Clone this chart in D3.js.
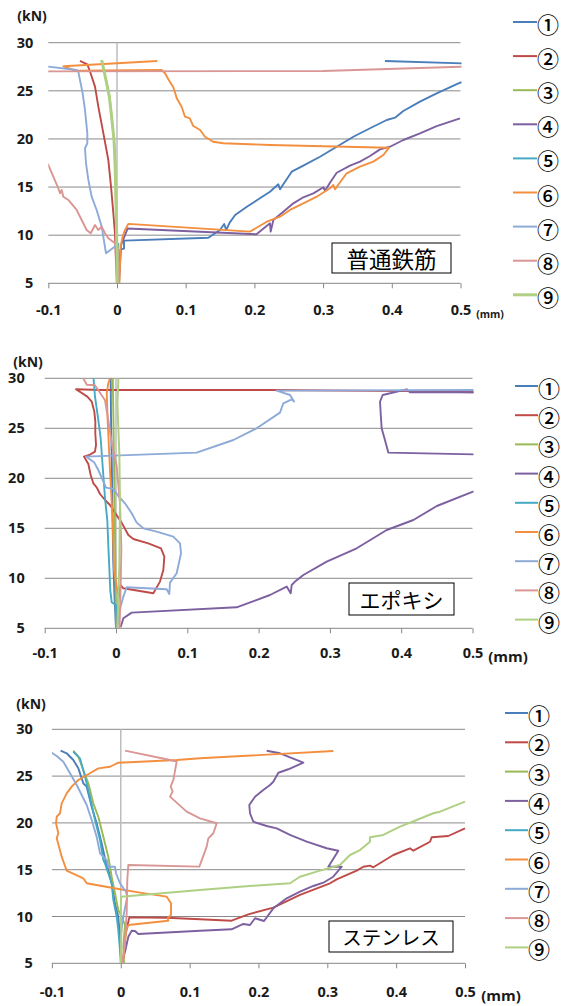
<!DOCTYPE html>
<html lang="ja">
<head>
<meta charset="UTF-8">
<title>荷重-すべり</title>
<script src="https://d3js.org/d3.v7.min.js"></script>
<style>
  body { margin: 0; background: #fff; }
  svg { display: block; }
  .tick text, .unit { font-family: "Open Sans", sans-serif; font-weight: 700; fill: #1a1a1a; }
  .legend text, .box text { font-family: "Noto Sans CJK JP", sans-serif; fill: #000; }
</style>
</head>
<body>
<svg width="565" height="1006"></svg>
<script>
// data: [slip (mm), load (kN)] per series, series order ①..⑨
const legendLabels = ['①', '②', '③', '④', '⑤', '⑥', '⑦', '⑧', '⑨'];
const seriesColors = ['#4a7ebb', '#be4b48', '#98b954', '#7d60a0', '#46aac5', '#f38f3e', '#8daad9', '#d99694', '#afd083'];
const xTicks = [-0.1, 0, 0.1, 0.2, 0.3, 0.4, 0.5];
const yTicks = [5, 10, 15, 20, 25, 30];
const panelNames = ['普通鉄筋', 'エポキシ', 'ステンレス'];

const plainBar = [
  [[0.002,5],[0.005,8.5],[0.0102,8.6],[0.0102,9.43],[0.133,9.74],[0.15,10.54],[0.156,11.16],[0.159,10.54],[0.164,11.3],[0.172,12.1],[0.189,12.96],[0.208,13.83],[0.2227,14.52],[0.2348,15.29],[0.2373,14.77],[0.2421,15.29],[0.2543,16.6],[0.2712,17.22],[0.2955,18.15],[0.3198,19.19],[0.344,20.23],[0.3683,21.11],[0.3926,21.97],[0.4047,22.21],[0.4167,22.9],[0.441,23.87],[0.4653,24.74],[0.4993,25.84],[0.6,27.64],[0.39,28.1]],
  [[0,5],[-0.002,8.12],[-0.003,10.2],[-0.0053,12.27],[-0.0087,15.04],[-0.0126,17.8],[-0.0199,20.6],[-0.0272,23.36],[-0.032,25.44],[-0.0393,27.0],[-0.0432,27.76],[-0.0539,28.1]],
  [[0,5],[-0.001,10],[-0.002,15],[-0.004,19.5],[-0.008,22.5],[-0.011,24.5],[-0.016,26.2]],
  [[0.003,5],[0.006,9],[0.0155,10.7],[0.203,10.09],[0.2227,11.23],[0.2237,10.37],[0.2276,11.58],[0.2421,12.44],[0.2567,13.31],[0.2712,13.94],[0.2858,14.35],[0.3004,14.98],[0.3028,14.62],[0.31,15.45],[0.3198,16.49],[0.3392,17.22],[0.3537,17.64],[0.3683,18.23],[0.3829,18.92],[0.3974,19.19],[0.4168,19.89],[0.441,20.59],[0.4653,21.34],[0.4993,22.14]],
  [[0,5],[0.001,7.5],[0.002,9.2]],
  [[0.0034,5],[0.0044,7.08],[0.0053,8.81],[0.0082,9.85],[0.0116,10.54],[0.0165,11.17],[0.1936,10.37],[0.218,11.4],[0.2373,11.92],[0.2518,12.62],[0.2712,13.31],[0.2907,14.0],[0.31,14.87],[0.3149,15.21],[0.3173,14.77],[0.3343,16.43],[0.3537,17.12],[0.3731,17.64],[0.3877,18.33],[0.396,19.09],[0.2227,19.37],[0.1548,19.55],[0.14,19.71],[0.128,20.23],[0.121,20.93],[0.111,21.34],[0.106,22.14],[0.099,22.31],[0.094,23.35],[0.087,24.22],[0.082,25.37],[0.0747,26.2],[0.0699,26.82],[0.065,27.16],[-0.06,27.1],[-0.078,27.55],[0.0587,28.1]],
  [[0.002,5],[0.001,8],[0,8.98],[-0.016,8.12],[-0.0223,10.89],[-0.0296,12.62],[-0.0369,14.0],[-0.0417,15.74],[-0.0451,17.47],[-0.0466,19.03],[-0.0432,19.55],[-0.0432,20.59],[-0.0466,23.01],[-0.05,24.74],[-0.0539,26.13],[-0.0563,27.0],[-0.0587,27.17],[-0.1,27.51],[-0.13,27.6]],
  [[0.002,5],[0.001,8.64],[-0.003,9.16],[-0.0126,9.68],[-0.0175,10.2],[-0.0223,10.89],[-0.0272,10.54],[-0.032,11.06],[-0.0383,10.2],[-0.0442,10.54],[-0.0514,11.58],[-0.0587,12.62],[-0.0708,13.66],[-0.0781,14.0],[-0.0805,14.7],[-0.083,14.35],[-0.0854,14.87],[-0.0927,16.08],[-0.1,17.3],[-0.12,19.5],[-0.12,27.02],[0.3,27.06],[0.5,27.5],[0.6,27.7]],
  [[0,5],[0,8.1],[-0.001,11.9],[-0.0019,15.0],[-0.0029,17.8],[-0.0044,19.9],[-0.0078,22.3],[-0.0112,24.4],[-0.016,26.1],[-0.0223,28.2]]
];

const epoxyBar = [
  [[0,5],[-0.002,8],[-0.004,12],[-0.005,17],[-0.006,22],[-0.007,26],[-0.0075,30]],
  [[0,5],[0.0019,7.17],[0.0065,9.33],[0.0103,9.0],[0.0524,8.5],[0.0617,9.67],[0.0664,10.83],[0.0678,12.17],[0.0631,13.0],[0.0453,13.5],[0.0243,13.93],[0.0173,14.33],[0.0079,15.57],[0,16.4],[-0.0084,17.33],[-0.0154,17.83],[-0.0224,18.43],[-0.0271,19.1],[-0.0318,19.5],[-0.0355,20.33],[-0.0388,21.43],[-0.0449,22.17],[-0.0374,22.33],[-0.0295,22.67],[-0.028,23.33],[-0.029,24.5],[-0.029,25.67],[-0.0304,26.67],[-0.0341,27.67],[-0.0402,28.17],[-0.0561,28.9],[-0.0224,28.83],[0.216,28.83],[0.4077,28.72],[0.5,28.6],[0.55,28.55]],
  [[0,5],[-0.001,12.17],[-0.0023,18.83],[-0.0035,25.5],[-0.0045,30]],
  [[0.0065,5.1],[0.0103,6.0],[0.022,6.57],[0.1692,7.1],[0.216,8.33],[0.2394,9.17],[0.245,8.5],[0.2464,9.33],[0.2511,9.67],[0.2628,10.33],[0.2955,11.67],[0.3376,13.0],[0.3797,14.83],[0.4171,15.83],[0.45,17.23],[0.5007,18.67],[0.56,20.5],[0.56,22.3],[0.3819,22.57],[0.3772,23.83],[0.3726,25.0],[0.3712,26.5],[0.3703,27.67],[0.374,28.33],[0.4077,28.9],[0.4124,28.6],[0.5,28.6],[0.56,28.6]],
  [[0,5],[0,7.3],[-0.006,7.6],[-0.008,8.8],[-0.0103,12.5],[-0.0122,15.8],[-0.0154,18],[-0.0185,21],[-0.0215,24],[-0.0255,26.2],[-0.0295,28.2],[-0.0315,30]],
  [[0.002,5],[0.0033,8.16],[-0.0028,10.8],[-0.0047,15.8],[-0.0084,20.8],[-0.0117,25.8],[-0.013,28.5],[-0.0108,29.5],[-0.0084,30]],
  [[0.001,5],[0.0065,7.17],[0.0103,8.17],[0.015,9.1],[0.0711,8.9],[0.0748,8.43],[0.0757,9.57],[0.0851,10.5],[0.0912,12.5],[0.0898,13.5],[0.0804,14.17],[0.057,14.67],[0.0383,15.0],[0.029,15.57],[0.022,16.5],[0.0126,17.5],[0.0033,18.23],[-0.0037,18.93],[-0.014,19.07],[-0.0187,19.83],[-0.0248,20.83],[-0.0304,21.57],[-0.0421,22.17],[-0.0037,22.27],[0.1131,22.57],[0.1646,23.83],[0.1973,25.0],[0.23,26.57],[0.2347,27.5],[0.2464,27.9],[0.2497,27.67],[0.2441,28.33],[0.2254,28.77],[0.5,28.83],[0.56,28.85]],
  [[0.005,5],[0.0066,9.5],[0.0075,13],[0.0056,17.5],[0.001,21.2],[-0.006,23.5],[-0.0108,25.8],[-0.0154,27.8],[-0.0248,28.8],[-0.0295,29.3],[-0.041,29.35],[-0.046,30]],
  [[0.002,5],[0.0047,11.5],[0.0056,17.5],[0.0047,22.5],[0.0019,27.5],[0.0033,29.8],[0.003,30]]
];

const stainlessBar = [
  [[0.0004,5],[-0.0011,7.84],[-0.0036,9.98],[-0.0084,11.41],[-0.0132,13.55],[-0.0181,14.97],[-0.0229,16.2],[-0.0277,17.82],[-0.035,19.96],[-0.0422,21.73],[-0.0495,23.87],[-0.0544,24.23],[-0.0616,25.83],[-0.0689,26.72],[-0.0785,27.44],[-0.0873,27.71]],
  [[0.0037,5.17],[0.0062,7.84],[0.011,9.44],[0.0125,9.91],[0.0667,9.87],[0.1151,9.7],[0.161,9.55],[0.1853,10.23],[0.2216,10.94],[0.2603,12.3],[0.3039,13.55],[0.3136,13.97],[0.3427,14.9],[0.3523,15.32],[0.362,15.43],[0.3669,15.26],[0.3959,16.57],[0.4201,17.29],[0.4249,17.03],[0.4492,17.99],[0.4516,18.46],[0.4757,18.6],[0.5,19.42]],
  [[0.0047,5],[0.0037,6.77],[0.0062,9.09],[0.0013,9.98],[-0.0036,10.69],[-0.0084,12.48],[-0.0132,14.25],[-0.0181,16.39],[-0.0253,18.53],[-0.0326,20.66],[-0.0399,22.09],[-0.0471,24.23],[-0.0544,25.65],[-0.0616,27.07],[-0.0689,27.71]],
  [[0.0013,5],[0.0062,6.24],[0.011,7.84],[0.0159,8.48],[0.0207,8.45],[0.0255,8.13],[0.1151,8.48],[0.161,8.63],[0.178,9.2],[0.1877,9.09],[0.195,9.81],[0.2081,9.52],[0.2216,10.87],[0.241,11.94],[0.2603,12.65],[0.2797,13.26],[0.2942,13.61],[0.3087,14.25],[0.3209,15.32],[0.3015,15.32],[0.316,17.03],[0.2991,17.29],[0.2701,17.99],[0.2458,18.71],[0.2265,19.42],[0.212,19.67],[0.1925,20.13],[0.1877,21.03],[0.1867,21.91],[0.195,22.8],[0.207,23.52],[0.2168,24.05],[0.2216,24.4],[0.2289,25.36],[0.2434,25.73],[0.2579,26.19],[0.2652,26.43],[0.2313,27.44],[0.212,27.71]],
  [[0.0004,5],[-0.0011,6.42],[-0.0036,8.56],[-0.0059,9.98],[-0.0108,11.77],[-0.0132,13.55],[-0.0181,14.62],[-0.0229,15.68],[-0.0253,16.04],[-0.0301,18.17],[-0.0374,20.31],[-0.0447,22.8],[-0.0519,24.94],[-0.0592,26.9],[-0.0689,27.6]],
  [[0.003,5],[0.008,8.5],[0.011,9.09],[0.0691,9.55],[0.0682,9.81],[0.073,10.16],[0.073,11.41],[0.0667,12.12],[0.028,12.55],[-0.0011,12.91],[-0.0495,13.55],[-0.0544,14.08],[-0.0785,14.9],[-0.0858,16.39],[-0.093,18.35],[-0.0907,18.89],[-0.094,19.96],[-0.093,20.66],[-0.0882,21.03],[-0.0858,22.09],[-0.0785,23.16],[-0.0713,23.87],[-0.0616,24.58],[-0.0447,25.3],[-0.0326,25.83],[-0.0156,26.0],[-0.0036,26.43],[0.028,26.54],[0.0812,26.72],[0.1151,26.9],[0.3087,27.68]],
  [[0,5],[0.0004,8.2],[0.0037,9.98],[0.0095,12.12],[0.0076,12.65],[-0.0011,13.55],[-0.0069,14.62],[-0.0084,15.32],[-0.0181,15.32],[-0.0204,16.04],[-0.0301,16.75],[-0.035,18.53],[-0.0422,20.31],[-0.0495,21.91],[-0.0567,22.98],[-0.064,24.05],[-0.0737,25.3],[-0.0834,26.54],[-0.093,27.15],[-0.1003,27.5],[-0.11,27.9]],
  [[0.0028,5],[0.0062,7.49],[0.0086,10.34],[0.0095,13.9],[0.011,15.51],[0.1142,15.33],[0.1248,17.46],[0.1272,18.35],[0.1345,18.89],[0.1393,19.96],[0.1151,20.49],[0.0957,21.2],[0.0715,22.81],[0.0754,23.34],[0.0725,23.87],[0.0764,24.59],[0.0812,26.55],[0.0715,26.72],[0.0062,27.72]],
  [[0,5],[0.001,8.5],[0,10],[0.0004,12.12],[0.1151,12.83],[0.1732,13.19],[0.2458,13.55],[0.2603,14.25],[0.2894,14.9],[0.3184,15.5],[0.333,16.57],[0.3475,17.1],[0.362,17.99],[0.362,18.46],[0.3813,18.71],[0.4056,19.6],[0.4298,20.31],[0.454,21.03],[0.4637,21.2],[0.5,22.27]]
];

// layout of the three panels
const panels = [
  {series: plainBar, left: 48.3, right: 460.5, top: 42.7, bottom: 283.3, yPad: 15, xLabelY: 305,
   kn: [32, 21], mm: [490, 318, 10.5], box: [332, 243, 119, 30], boxFont: 22.5,
   legend: {x: 513, len: 24, y0: 22, step: 34.1}, thick9: 3},
  {series: epoxyBar, left: 44.7, right: 472.5, top: 378.3, bottom: 628.3, yPad: 20, xLabelY: 648,
   kn: [28, 367], mm: [508, 662, 15], box: [349, 583, 105, 32], boxFont: 21,
   legend: {x: 515, len: 23, y0: 386, step: 29.2}, thick9: 2},
  {series: stainlessBar, left: 51.9, right: 465, top: 729.3, bottom: 963.3, yPad: 19, xLabelY: 987,
   kn: [31, 709], mm: [501, 1001, 15], box: [329, 921, 124, 31], boxFont: 19.5,
   legend: {x: 505, len: 23, y0: 713, step: 29.3}, thick9: 2}
];

const svg = d3.select('svg');

panels.forEach((p, pi) => {
  const x = d3.scaleLinear().domain([-0.1, 0.5]).range([p.left, p.right]);
  const y = d3.scaleLinear().domain([5, 30]).range([p.bottom, p.top]);
  const g = svg.append('g');

  // horizontal gridlines
  g.selectAll('.grid')
    .data(yTicks.filter(d => d > 5))
    .join('line')
    .attr('x1', x(-0.1)).attr('x2', x(0.5))
    .attr('y1', d => y(d)).attr('y2', d => y(d))
    .attr('stroke', '#8a8a8a').attr('stroke-width', 1);

  // zero line
  g.append('line')
    .attr('x1', x(0)).attr('x2', x(0))
    .attr('y1', y(5)).attr('y2', y(30))
    .attr('stroke', '#bdbdbd').attr('stroke-width', 1.5);

  // x axis
  const xAxis = d3.axisBottom(x)
    .tickValues(xTicks)
    .tickSize(5)
    .tickPadding(p.xLabelY - p.bottom - 5)
    .tickFormat(d => d === 0 ? '0' : d.toFixed(1));
  const xg = g.append('g')
    .attr('transform', `translate(0,${p.bottom})`)
    .call(xAxis);
  xg.select('.domain').attr('stroke', '#868686').attr('d', `M${x(-0.1)},0H${x(0.5)}`);
  xg.selectAll('.tick line').attr('stroke', '#868686');
  xg.selectAll('.tick text').attr('font-size', 14.5).attr('dy', '0.71em');

  // y axis (labels only)
  const yAxis = d3.axisLeft(y).tickValues(yTicks).tickSize(0).tickPadding(p.yPad);
  const yg = g.append('g')
    .attr('transform', `translate(${p.left},0)`)
    .call(yAxis);
  yg.select('.domain').remove();
  yg.selectAll('.tick text').attr('font-size', 14.5);

  // units
  g.append('text').attr('class', 'unit')
    .attr('x', p.kn[0]).attr('y', p.kn[1])
    .attr('text-anchor', 'middle').attr('font-size', 14).attr('font-weight', 600)
    .text('(kN)');
  g.append('text').attr('class', 'unit')
    .attr('x', p.mm[0]).attr('y', p.mm[1])
    .attr('text-anchor', 'middle').attr('font-size', p.mm[2]).attr('font-weight', 600)
    .text('(mm)');

  // clipped series
  const clipId = `clip${pi}`;
  g.append('clipPath').attr('id', clipId)
    .append('rect')
    .attr('x', x(-0.1)).attr('y', y(30) - 1)
    .attr('width', x(0.5) - x(-0.1) + 1).attr('height', y(5) - y(30) + 1);

  const line = d3.line().x(d => x(d[0])).y(d => y(d[1]));

  g.append('g').attr('clip-path', `url(#${clipId})`)
    .selectAll('path')
    .data(p.series)
    .join('path')
    .attr('d', d => line(d))
    .attr('fill', 'none')
    .attr('stroke', (d, i) => seriesColors[i])
    .attr('stroke-width', (d, i) => i === 8 ? p.thick9 : 1.9)
    .attr('stroke-linejoin', 'round');

  // label box
  const box = g.append('g').attr('class', 'box');
  box.append('rect')
    .attr('x', p.box[0]).attr('y', p.box[1])
    .attr('width', p.box[2]).attr('height', p.box[3])
    .attr('fill', '#fff').attr('stroke', '#000').attr('stroke-width', 1);
  box.append('text')
    .attr('x', p.box[0] + p.box[2] / 2).attr('y', p.box[1] + p.box[3] / 2)
    .attr('text-anchor', 'middle').attr('dominant-baseline', 'central')
    .attr('font-size', p.boxFont)
    .text(panelNames[pi]);

  // legend
  const lg = g.append('g').attr('class', 'legend');
  const items = lg.selectAll('g')
    .data(legendLabels)
    .join('g')
    .attr('transform', (d, i) => `translate(${p.legend.x},${p.legend.y0 + i * p.legend.step})`);
  items.append('line')
    .attr('x1', 0).attr('x2', p.legend.len)
    .attr('stroke', (d, i) => seriesColors[i])
    .attr('stroke-width', (d, i) => i === 8 ? p.thick9 : 2);
  items.append('text')
    .attr('x', p.legend.len).attr('y', 1)
    .attr('dominant-baseline', 'central')
    .attr('font-size', 22).attr('font-weight', 500)
    .text(d => d);
});
</script>
</body>
</html>
